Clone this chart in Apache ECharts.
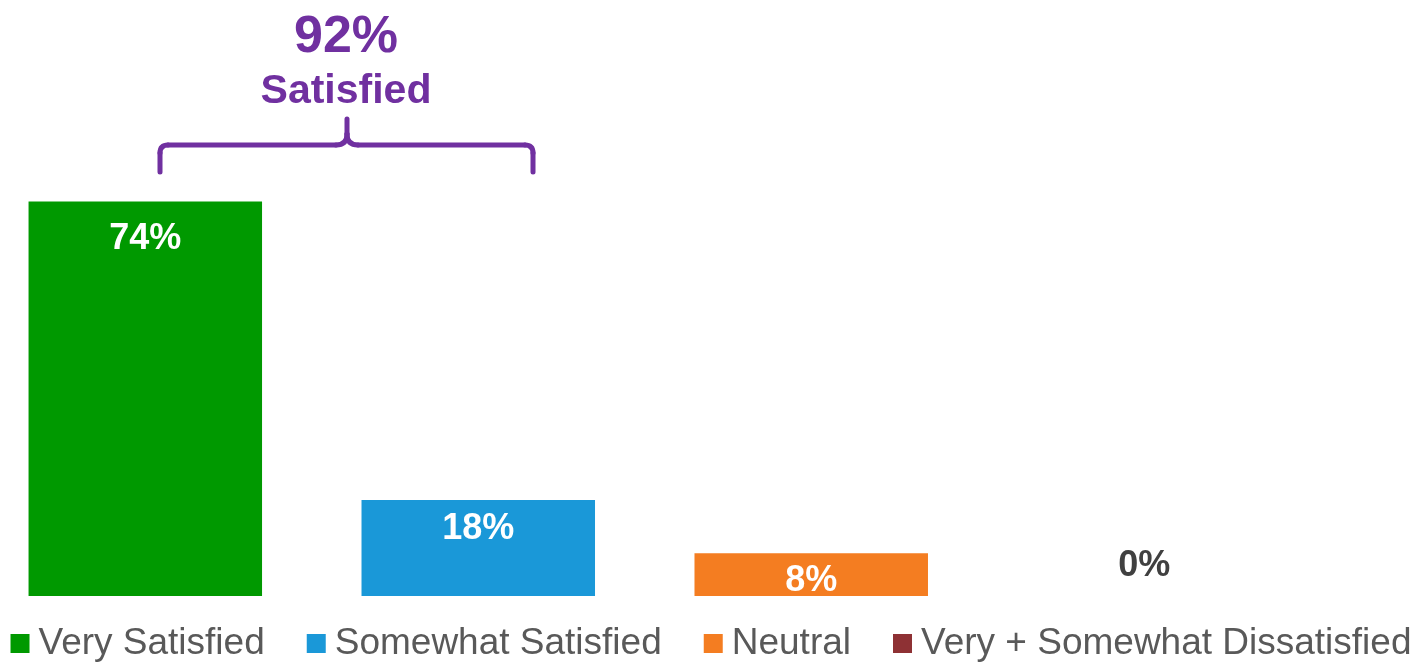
<!DOCTYPE html>
<html>
<head>
<meta charset="utf-8">
<script src="https://cdn.jsdelivr.net/npm/echarts@6/dist/echarts.min.js"></script>
<style>
html,body{margin:0;padding:0;background:#fff;}
#chart{width:1422px;height:663px;}
</style>
</head>
<body>
<div id="chart"></div>
<script>
// ---- data ----
var categories = ['Very Satisfied', 'Somewhat Satisfied', 'Neutral', 'Very + Somewhat Dissatisfied'];
var values = [74, 18, 8, 0];
var colors = ['#009900', '#1A98D8', '#F47D21', '#8E3134'];
var annotationValue = '92%';
var annotationLabel = 'Satisfied';

var FONT = '"Liberation Sans", Arial, Helvetica, sans-serif';
var labelDistances = [19, 11, 10, 12];

var series = categories.map(function (name, i) {
  var isZero = values[i] === 0;
  return {
    name: name,
    type: 'bar',
    data: [values[i]],
    barWidth: 233.5,
    barGap: '42.6%',
    itemStyle: { color: colors[i] },
    label: {
      show: true,
      position: isZero ? 'top' : 'insideTop',
      distance: labelDistances[i],
      formatter: '{c}%',
      color: isZero ? '#404040' : '#ffffff',
      fontFamily: FONT,
      fontWeight: 'bold',
      fontSize: 36
    }
  };
});

var PURPLE = '#7030A0';
var braceStyle = { stroke: PURPLE, lineWidth: 5, fill: null, lineCap: 'round', lineJoin: 'round' };
function seg(x1, y1, x2, y2) {
  return { type: 'line', shape: { x1: x1, y1: y1, x2: x2, y2: y2 }, style: braceStyle };
}
function curve(x1, y1, cx, cy, x2, y2) {
  return { type: 'bezierCurve', shape: { x1: x1, y1: y1, cpx1: cx, cpy1: cy, x2: x2, y2: y2 }, style: braceStyle };
}

var chart = echarts.init(document.getElementById('chart'), null, { renderer: 'canvas' });
chart.setOption({
  animation: false,
  backgroundColor: '#ffffff',
  grid: { left: 28.5, right: 161, top: 63, bottom: 67, containLabel: false },
  xAxis: { type: 'category', data: [''], show: false },
  yAxis: { type: 'value', min: 0, max: 100, show: false },
  legend: {
    data: categories,
    left: 'center',
    top: 620,
    icon: 'rect',
    itemWidth: 19,
    itemHeight: 19,
    itemGap: 42,
    textStyle: {
      fontFamily: FONT,
      fontSize: 37,
      color: '#595959',
      padding: [0, 0, 0, 4]
    }
  },
  series: series,
  graphic: [
    {
      type: 'text',
      style: {
        x: 346, y: 38,
        text: annotationValue,
        fill: PURPLE,
        font: 'bold 52px ' + FONT,
        textAlign: 'center',
        textVerticalAlign: 'middle'
      }
    },
    {
      type: 'text',
      style: {
        x: 346, y: 92,
        text: annotationLabel,
        fill: PURPLE,
        font: 'bold 41px ' + FONT,
        textAlign: 'center',
        textVerticalAlign: 'middle'
      }
    },
    seg(160, 172, 160, 153),
    curve(160, 153, 160, 145, 168, 145),
    seg(168, 145, 336, 145),
    curve(336, 145, 347, 145, 347, 134),
    seg(347, 134, 347, 119),
    curve(347, 134, 347, 145, 358, 145),
    seg(358, 145, 525, 145),
    curve(525, 145, 533, 145, 533, 153),
    seg(533, 153, 533, 172)
  ]
});
</script>
</body>
</html>
